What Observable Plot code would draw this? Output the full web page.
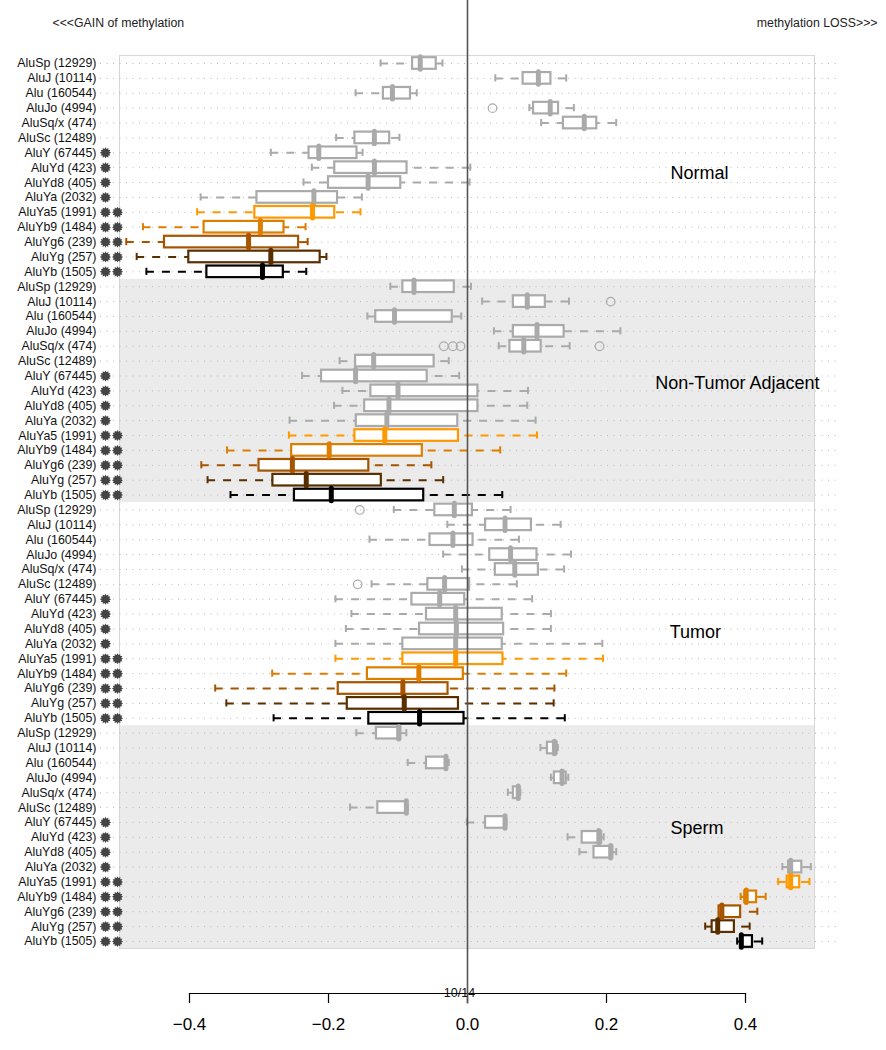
<!DOCTYPE html>
<html>
<head>
<meta charset="utf-8">
<script src="https://cdn.jsdelivr.net/npm/d3@7"></script>
<script src="https://cdn.jsdelivr.net/npm/@observablehq/plot@0.6"></script>
<style>
  html, body { margin: 0; padding: 0; background: #fff; }
  #chart svg { display: block; }
</style>
</head>
<body>
<div id="chart"></div>
<script>
// ---------------- data ----------------
const families = [
  "AluSp (12929)", "AluJ (10114)", "Alu (160544)", "AluJo (4994)", "AluSq/x (474)",
  "AluSc (12489)", "AluY (67445)", "AluYd (423)", "AluYd8 (405)", "AluYa (2032)",
  "AluYa5 (1991)", "AluYb9 (1484)", "AluYg6 (239)", "AluYg (257)", "AluYb (1505)"
];
const starCounts = [0, 0, 0, 0, 0, 0, 1, 1, 1, 1, 2, 2, 2, 2, 2];
const familyColors = [
  "#aaaaaa", "#aaaaaa", "#aaaaaa", "#aaaaaa", "#aaaaaa",
  "#aaaaaa", "#aaaaaa", "#aaaaaa", "#aaaaaa", "#aaaaaa",
  "#ff9900", "#dd7e00", "#a65400", "#5a2f00", "#000000"
];
const groups = ["Normal", "Non-Tumor Adjacent", "Tumor", "Sperm"];

// [lower whisker, Q1, median, Q3, upper whisker] per family
const normal = [
  [-0.125, -0.079, -0.068, -0.045, -0.036],
  [ 0.040,  0.080,  0.102,  0.120,  0.142],
  [-0.161, -0.121, -0.108, -0.082, -0.073],
  [ 0.089,  0.095,  0.119,  0.131,  0.153],
  [ 0.106,  0.138,  0.168,  0.186,  0.214],
  [-0.189, -0.162, -0.134, -0.112, -0.098],
  [-0.283, -0.228, -0.214, -0.159, -0.151],
  [-0.224, -0.191, -0.134, -0.087,  0.004],
  [-0.236, -0.200, -0.143, -0.096,  0.003],
  [-0.384, -0.303, -0.221, -0.187, -0.152],
  [-0.389, -0.306, -0.223, -0.191, -0.154],
  [-0.467, -0.379, -0.298, -0.264, -0.233],
  [-0.491, -0.436, -0.315, -0.243, -0.230],
  [-0.476, -0.401, -0.283, -0.212, -0.203],
  [-0.462, -0.375, -0.295, -0.265, -0.232]
];
const nonTumorAdjacent = [
  [-0.111, -0.093, -0.077, -0.019,  0.005],
  [ 0.021,  0.066,  0.086,  0.112,  0.146],
  [-0.144, -0.132, -0.105, -0.022, -0.009],
  [ 0.038,  0.066,  0.100,  0.139,  0.220],
  [ 0.045,  0.061,  0.081,  0.106,  0.147],
  [-0.184, -0.161, -0.135, -0.048, -0.027],
  [-0.238, -0.210, -0.161, -0.058, -0.012],
  [-0.180, -0.139, -0.100,  0.015,  0.087],
  [-0.192, -0.148, -0.113,  0.015,  0.086],
  [-0.256, -0.160, -0.116, -0.014,  0.098],
  [-0.257, -0.162, -0.119, -0.013,  0.100],
  [-0.346, -0.253, -0.199, -0.065,  0.047],
  [-0.383, -0.300, -0.252, -0.142, -0.052],
  [-0.374, -0.280, -0.232, -0.124, -0.035],
  [-0.341, -0.249, -0.196, -0.063,  0.050]
];
const tumor = [
  [-0.106, -0.047, -0.019,  0.007,  0.062],
  [-0.029,  0.026,  0.054,  0.092,  0.134],
  [-0.141, -0.054, -0.021,  0.008,  0.074],
  [-0.035,  0.032,  0.062,  0.100,  0.149],
  [-0.008,  0.040,  0.068,  0.102,  0.139],
  [-0.138, -0.057, -0.033,  0.003,  0.071],
  [-0.190, -0.080, -0.040, -0.004,  0.093],
  [-0.167, -0.059, -0.017,  0.050,  0.120],
  [-0.175, -0.069, -0.016,  0.052,  0.120],
  [-0.190, -0.093, -0.017,  0.050,  0.194],
  [-0.190, -0.093, -0.017,  0.051,  0.195],
  [-0.281, -0.144, -0.070, -0.006,  0.142],
  [-0.363, -0.186, -0.093, -0.028,  0.125],
  [-0.347, -0.173, -0.091, -0.013,  0.124],
  [-0.279, -0.142, -0.069, -0.005,  0.140]
];
const sperm = [
  [-0.160, -0.131, -0.099, -0.096, -0.088],
  [ 0.105,  0.115,  0.125,  0.129,  0.130],
  [-0.086, -0.059, -0.031, -0.029, -0.027],
  [ 0.120,  0.125,  0.136,  0.142,  0.145],
  [ 0.058,  0.066,  0.073,  0.075,  0.076],
  [-0.169, -0.129, -0.088, -0.087, -0.086],
  [-0.001,  0.026,  0.054,  0.055,  0.056],
  [ 0.144,  0.165,  0.189,  0.193,  0.196],
  [ 0.161,  0.182,  0.206,  0.209,  0.214],
  [ 0.453,  0.462,  0.465,  0.481,  0.494],
  [ 0.447,  0.460,  0.465,  0.478,  0.492],
  [ 0.393,  0.399,  0.401,  0.416,  0.429],
  [ 0.362,  0.362,  0.366,  0.393,  0.417],
  [ 0.342,  0.352,  0.360,  0.384,  0.406],
  [ 0.388,  0.393,  0.394,  0.410,  0.424]
];
// outliers: [group index, family index, value]
const outliers = [
  [0, 3, 0.036],
  [1, 1, 0.206],
  [1, 4, -0.034], [1, 4, -0.021], [1, 4, -0.010], [1, 4, 0.190],
  [2, 0, -0.155],
  [2, 5, -0.158]
];
const xTicks = [-0.4, -0.2, 0.0, 0.2, 0.4];
const topLeftText = "<<<GAIN of methylation";
const topRightText = "methylation LOSS>>>";
const pageText = "10/14";

// ---------------- layout constants ----------------
const groupLabelPos = [[0.292, 7.4], [0.270, 21.5], [0.291, 38.2], [0.292, 51.4]];
const boxHalf = 0.39, medHalf = 0.42, capHalf = 0.24;

// ---------------- build tables ----------------
const groupStats = [normal, nonTumorAdjacent, tumor, sperm];
const stats = [];
groupStats.forEach((g, gi) => g.forEach((s, fi) => {
  stats.push({row: gi * 15 + fi, label: families[fi], color: familyColors[fi],
    lw: s[0], q1: s[1], med: s[2], q3: s[3], uw: s[4], stars: starCounts[fi]});
}));
const outlierData = outliers.map(([g, f, v]) => ({row: g * 15 + f, value: v, color: familyColors[f]}));
const bands = groups.map((name, gi) => ({gi, y1: gi * 15 - 0.5, y2: gi * 15 + 14.5})).filter(d => d.gi % 2 === 1);
const groupLabels = groups.map((name, gi) => ({name, x: groupLabelPos[gi][0], y: groupLabelPos[gi][1]}));
const rows = stats.map(d => d.row);

const spiky = {
  draw(context, size) {
    const R = Math.sqrt(size / Math.PI);
    const r = R * 0.70;
    const n = 12;
    for (let i = 0; i < 2 * n; i++) {
      const a = Math.PI * i / n;
      const rad = i % 2 ? r : R;
      const x = rad * Math.sin(a), y = -rad * Math.cos(a);
      if (i) context.lineTo(x, y); else context.moveTo(x, y);
    }
    context.closePath();
  }
};

const fmt = d3.format(".1f");

const chart = Plot.plot({
  width: 886,
  height: 1050,
  marginLeft: 189,
  marginRight: 141,
  marginTop: 0,
  marginBottom: 57,
  x: {domain: [-0.4, 0.4]},
  y: {domain: [0, 59], range: [63, 941], axis: null},
  color: {type: "identity"},
  style: {fontFamily: "'Liberation Sans', Arial, Helvetica, sans-serif", background: "white", overflow: "visible"},
  marks: [
    // grey panels
    Plot.rect(bands, {x1: -0.5, x2: 0.5, y1: "y1", y2: "y2", fill: "#ebebeb"}),
    // plot box
    Plot.rect([0], {x1: -0.5, x2: 0.5, y1: -0.5, y2: 59.5, fill: "none", stroke: "#d6d6d6", strokeWidth: 1}),
    // dotted row guides
    Plot.ruleY(rows, {y: d => d, x1: -0.528, x2: 0.537, stroke: "#b8b8b8", strokeWidth: 1, strokeDasharray: "1,5.5"}),
    // whiskers (dashed)
    Plot.ruleY(stats, {y: "row", x1: "lw", x2: "q1", stroke: "color", strokeWidth: 2, strokeDasharray: "8,8"}),
    Plot.ruleY(stats, {y: "row", x1: "uw", x2: "q3", stroke: "color", strokeWidth: 2, strokeDasharray: "8,8"}),
    // whisker caps
    Plot.ruleX(stats, {x: "lw", y1: d => d.row - capHalf, y2: d => d.row + capHalf, stroke: "color", strokeWidth: 2}),
    Plot.ruleX(stats, {x: "uw", y1: d => d.row - capHalf, y2: d => d.row + capHalf, stroke: "color", strokeWidth: 2}),
    // boxes
    Plot.rect(stats, {x1: "q1", x2: "q3", y1: d => d.row - boxHalf, y2: d => d.row + boxHalf, fill: "white", stroke: "color", strokeWidth: 2.2}),
    // medians
    Plot.ruleX(stats, {x: "med", y1: d => d.row - medHalf, y2: d => d.row + medHalf, stroke: "color", strokeWidth: 5, strokeLinecap: "round"}),
    // outliers
    Plot.dot(outlierData, {x: "value", y: "row", r: 4.3, stroke: "color", strokeWidth: 1.2, fill: "none"}),
    // family labels
    Plot.axisY(rows, {tickFormat: i => families[i % 15], tickSize: 0, tickPadding: 93, fontSize: 12.4, fill: "#111"}),
    // stars
    Plot.dot(stats.filter(d => d.stars >= 1), {y: "row", frameAnchor: "left", dx: -84, symbol: spiky, r: 5.6, fill: "#444", stroke: "none"}),
    Plot.dot(stats.filter(d => d.stars >= 2), {y: "row", frameAnchor: "left", dx: -72, symbol: spiky, r: 5.6, fill: "#444", stroke: "none"}),
    // group labels
    Plot.text(groupLabels, {x: "x", y: "y", text: "name", textAnchor: "start", fontSize: 18, fill: "#000"}),
    // top annotations
    Plot.text([topLeftText], {frameAnchor: "top-left", dx: -137, dy: 18, textAnchor: "start", fontSize: 12.3, fill: "#222"}),
    Plot.text([topRightText], {frameAnchor: "top-right", dx: 132, dy: 18, textAnchor: "end", fontSize: 12.3, fill: "#222"}),
    // x axis line and ticks
    Plot.frame({anchor: "bottom", stroke: "#000", strokeWidth: 1.2}),
    Plot.axisX(xTicks, {tickSize: 10, tickPadding: 14, fontSize: 17, tickFormat: fmt, stroke: "#000", strokeWidth: 1.2, fill: "#000"}),
    // page number
    Plot.text([pageText], {x: 0, frameAnchor: "bottom", dx: -8, dy: 3, fontSize: 12.5, fill: "#111"}),
    // zero line
    Plot.ruleX([0], {y1: -4.3, y2: 63.2, stroke: "#555", strokeWidth: 1.6})
  ]
});
document.getElementById("chart").appendChild(chart);
</script>
</body>
</html>
